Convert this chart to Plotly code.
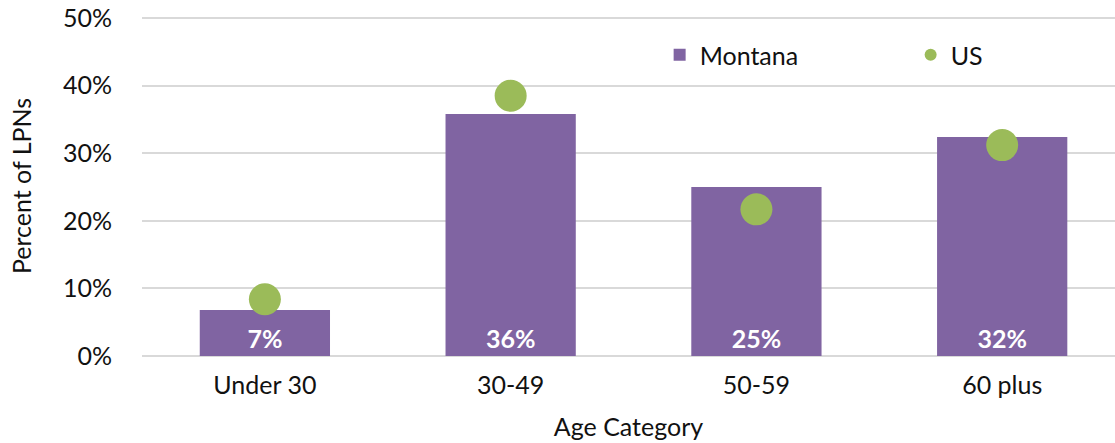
import plotly.graph_objects as go

categories = ["Under 30", "30-49", "50-59", "60 plus"]
montana = [0.068, 0.358, 0.250, 0.324]
us = [0.084, 0.385, 0.217, 0.312]
montana_labels = ["7%", "36%", "25%", "32%"]
y_ticks = [0, 0.1, 0.2, 0.3, 0.4, 0.5]
y_tick_labels = ["0%", "10%", "20%", "30%", "40%", "50%"]

FONT = "Lato"
fig = go.Figure()
fig.add_trace(go.Bar(
    x=categories, y=montana, name="Montana",
    marker=dict(color="#8064A2", line=dict(width=0)),
    width=0.53,
    text=montana_labels, textposition="inside", insidetextanchor="start",
    textfont=dict(family=FONT, size=25, color="white", weight="bold"),
    textangle=0,
))
fig.add_trace(go.Scatter(
    x=categories, y=us, name="US", mode="markers",
    marker=dict(color="#9BBB59", size=32),
))

fig.update_layout(
    width=1115, height=443,
    margin=dict(l=142, r=0, t=16, b=87, autoexpand=False),
    plot_bgcolor="white", paper_bgcolor="white",
    font=dict(family=FONT, size=25, color="#111111"),
    showlegend=True,
    legend=dict(orientation="h", x=0.532, y=0.885, xanchor="left", yanchor="middle",
                itemsizing="constant", entrywidth=206, font=dict(size=25),
                bgcolor="rgba(0,0,0,0)"),
    xaxis=dict(range=[-0.5, 3.459], showgrid=False, showline=False, ticks="",
               ticklabelstandoff=12,
               title=dict(text="Age Category", standoff=20, font=dict(size=25))),
    yaxis=dict(range=[0, 0.503], tickvals=y_ticks, ticktext=y_tick_labels, showgrid=True,
               gridcolor="#d9d9d9", gridwidth=1.5, zeroline=True, zerolinecolor="#d9d9d9",
               zerolinewidth=1.5, showline=False, ticks="", ticklabelstandoff=29,
               title=dict(text="Percent of LPNs", standoff=24, font=dict(size=25))),
)
fig.write_html("out.html", config={"displayModeBar": False},
               post_script="document.body.style.margin='0';document.body.style.overflow='hidden';")
